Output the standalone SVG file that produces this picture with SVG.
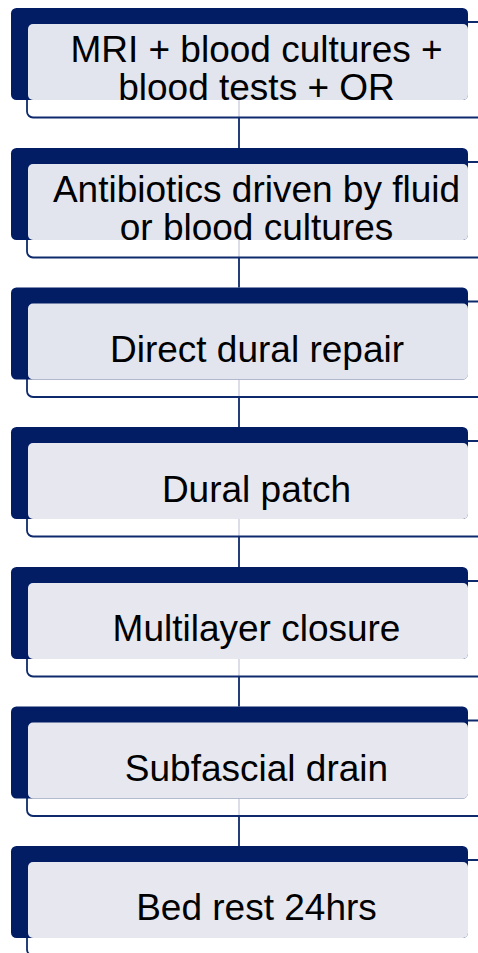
<svg xmlns="http://www.w3.org/2000/svg" width="478" height="953" viewBox="0 0 478 953">
<defs>
<style>
.back{fill:#021d63;}
.face{fill:#e3e5ee;}
.face2{fill:#e7e8ef;}
.frame{fill:none;stroke:#0e2a6c;stroke-width:1.8;}
.lbl{font-family:"Liberation Sans",Arial,sans-serif;font-size:37px;fill:#000;text-anchor:middle;}
.conn{stroke:#0e2a6c;stroke-width:1.8;fill:none;}
.connf{stroke:#d9dae6;stroke-width:1.8;fill:none;}
</style>
</defs>
<rect width="478" height="953" fill="#ffffff"/>
<g id="connectors">
<line class="connf" x1="239" y1="100" x2="239" y2="117"/>
<line class="conn" x1="239" y1="117.5" x2="239" y2="148"/>
<line class="connf" x1="239" y1="240" x2="239" y2="257"/>
<line class="conn" x1="239" y1="257.5" x2="239" y2="287.5"/>
<line class="connf" x1="239" y1="379.5" x2="239" y2="396.5"/>
<line class="conn" x1="239" y1="397" x2="239" y2="427"/>
<line class="connf" x1="239" y1="519" x2="239" y2="536"/>
<line class="conn" x1="239" y1="536.5" x2="239" y2="567"/>
<line class="connf" x1="239" y1="659" x2="239" y2="676"/>
<line class="conn" x1="239" y1="676.5" x2="239" y2="706.5"/>
<line class="connf" x1="239" y1="798.5" x2="239" y2="815.5"/>
<line class="conn" x1="239" y1="816" x2="239" y2="846"/>
</g>
<g id="node1" transform="translate(0,8)">
<rect class="frame" x="27" y="14" width="470" height="95.5" rx="6"/>
<rect class="back" x="11" y="0" width="457" height="92" rx="5.5"/>
<rect class="face" x="28" y="16" width="440" height="76" rx="5"/>
<text class="lbl" x="256.5" y="54.3">MRI + blood cultures +</text>
<text class="lbl" x="256.5" y="92">blood tests + OR</text>
</g>
<g id="node2" transform="translate(0,148)">
<rect class="frame" x="27" y="14" width="470" height="95.5" rx="6"/>
<rect class="back" x="11" y="0" width="457" height="92" rx="5.5"/>
<rect class="face" x="28" y="16" width="440" height="76" rx="5"/>
<text class="lbl" x="256.5" y="54.3">Antibiotics driven by fluid</text>
<text class="lbl" x="256.5" y="92">or blood cultures</text>
</g>
<g id="node3" transform="translate(0,287.5)">
<rect class="frame" x="27" y="14" width="470" height="95.5" rx="6"/>
<rect class="back" x="11" y="0" width="457" height="92" rx="5.5"/>
<rect class="face" x="28" y="16" width="440" height="76" rx="5"/>
<text class="lbl" x="257" y="74.4">Direct dural repair</text>
</g>
<g id="node4" transform="translate(0,427)">
<rect class="frame" x="27" y="14" width="470" height="95.5" rx="6"/>
<rect class="back" x="11" y="0" width="457" height="92" rx="5.5"/>
<rect class="face2" x="28" y="16" width="440" height="76" rx="5"/>
<text class="lbl" x="256.5" y="74.7">Dural patch</text>
</g>
<g id="node5" transform="translate(0,567)">
<rect class="frame" x="27" y="14" width="470" height="95.5" rx="6"/>
<rect class="back" x="11" y="0" width="457" height="92" rx="5.5"/>
<rect class="face2" x="28" y="16" width="440" height="76" rx="5"/>
<text class="lbl" x="256.5" y="74.2">Multilayer closure</text>
</g>
<g id="node6" transform="translate(0,706.5)">
<rect class="frame" x="27" y="14" width="470" height="95.5" rx="6"/>
<rect class="back" x="11" y="0" width="457" height="92" rx="5.5"/>
<rect class="face2" x="28" y="16" width="440" height="76" rx="5"/>
<text class="lbl" x="256.5" y="74.5">Subfascial drain</text>
</g>
<g id="node7" transform="translate(0,846)">
<rect class="frame" x="27" y="14" width="470" height="95.5" rx="6"/>
<rect class="back" x="11" y="0" width="457" height="92" rx="5.5"/>
<rect class="face2" x="28" y="16" width="440" height="76" rx="5"/>
<text class="lbl" x="256.5" y="74">Bed rest 24hrs</text>
</g>
</svg>
